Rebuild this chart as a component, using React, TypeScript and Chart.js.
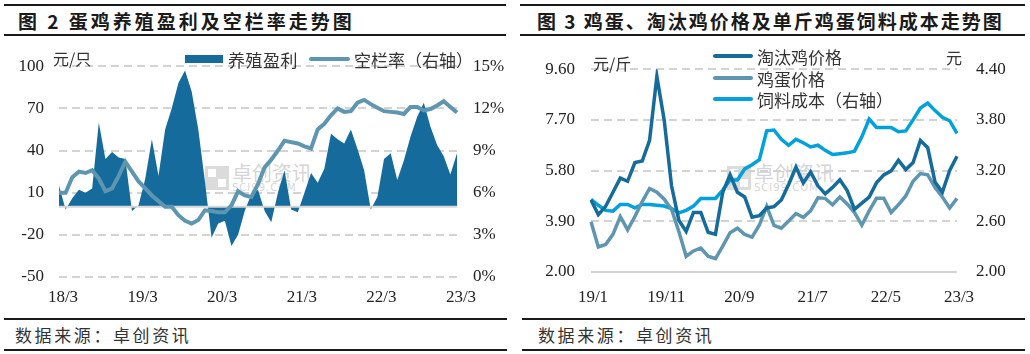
import React, { useEffect, useRef } from "react";
import { Chart, registerables } from "chart.js";

Chart.register(...registerables);

// ---------- Figure 2 data ----------
const profitLabels: string[] = [
  "18/3", "18/4", "18/5", "18/6", "18/7", "18/8", "18/9", "18/10", "18/11", "18/12",
  "19/1", "19/2", "19/3", "19/4", "19/5", "19/6", "19/7", "19/8", "19/9", "19/10", "19/11", "19/12",
  "20/1", "20/2", "20/3", "20/4", "20/5", "20/6", "20/7", "20/8", "20/9", "20/10", "20/11", "20/12",
  "21/1", "21/2", "21/3", "21/4", "21/5", "21/6", "21/7", "21/8", "21/9", "21/10", "21/11", "21/12",
  "22/1", "22/2", "22/3", "22/4", "22/5", "22/6", "22/7", "22/8", "22/9", "22/10", "22/11", "22/12",
  "23/1", "23/2", "23/3",
];
const profitValues: number[] = [
  15, -2, 6, 12, 10, 13, 60, 34, 39, 35, 34, -3,
  1, 20, 48, 22, 55, 70, 88, 97, 82, 55, 18, -22,
  -12, -10, -28, -20, -3, 9, 12, -3, -11, 10, 26, -2,
  -4, 10, 24, 17, 27, 52, 48, 45, 55, 41, 26, -2,
  7, 34, 38, 19, 33, 50, 64, 74, 57, 44, 36, 23,
  38,
];
const vacancyRates: number[] = [
  6.0, 6.0, 7.1, 7.5, 7.4, 7.6, 7.0, 6.1, 6.3, 7.2, 8.2, 7.5,
  6.8, 6.3, 5.8, 5.4, 5.0, 5.0, 4.4, 4.0, 3.8, 4.05, 4.75, 4.7,
  4.6, 4.6, 5.1, 6.1, 5.8, 5.7, 6.6, 7.8, 8.35, 9.0, 9.7, 9.6,
  9.5, 9.3, 9.15, 10.5, 10.9, 11.5, 12.0, 11.75, 11.8, 12.4, 12.6, 12.3,
  12.05, 11.8, 11.75, 11.7, 11.6, 12.1, 12.1, 11.85, 11.95, 12.2, 12.5, 12.1,
  11.7,
];
const profitTicks: number[] = [-50, -20, 10, 40, 70, 100];
const vacancyTicks: number[] = [0, 3, 6, 9, 12, 15];

// ---------- Figure 3 data ----------
const priceLabels: string[] = [
  "19/1", "19/2", "19/3", "19/4", "19/5", "19/6", "19/7", "19/8", "19/9", "19/10", "19/11", "19/12",
  "20/1", "20/2", "20/3", "20/4", "20/5", "20/6", "20/7", "20/8", "20/9", "20/10", "20/11", "20/12",
  "21/1", "21/2", "21/3", "21/4", "21/5", "21/6", "21/7", "21/8", "21/9", "21/10", "21/11", "21/12",
  "22/1", "22/2", "22/3", "22/4", "22/5", "22/6", "22/7", "22/8", "22/9", "22/10", "22/11", "22/12",
  "23/1", "23/2", "23/3",
];
const cullPrices: number[] = [
  4.70, 4.15, 4.46, 4.99, 5.52, 5.40, 6.10, 6.16, 6.93, 9.33, 7.69, 5.23,
  3.94, 3.52, 4.23, 4.23, 3.49, 3.41, 4.99, 5.64, 4.99, 4.81, 4.05, 4.11,
  4.40, 4.45, 4.70, 5.28, 5.93, 5.34, 5.75, 5.23, 4.93, 5.17, 5.46, 5.05,
  4.35, 4.58, 4.81, 5.34, 5.64, 5.79, 6.19, 5.84, 6.10, 6.93, 6.66, 5.37,
  4.99, 5.81, 6.34,
];
const eggPrices: number[] = [
  3.88, 2.94, 3.03, 3.41, 4.08, 3.58, 4.08, 4.64, 5.13, 4.99, 4.73, 4.35,
  3.52, 2.59, 2.79, 2.90, 2.59, 2.50, 2.97, 3.47, 3.64, 3.41, 3.31, 3.76,
  4.46, 3.75, 3.64, 3.91, 4.19, 4.05, 4.29, 4.78, 4.76, 4.52, 4.81, 4.55,
  4.23, 3.76, 4.29, 4.76, 4.76, 4.23, 4.52, 4.85, 5.40, 5.69, 5.64, 5.17,
  4.81, 4.40, 4.76,
];
const feedCosts: number[] = [
  2.86, 2.79, 2.73, 2.72, 2.80, 2.80, 2.76, 2.80, 2.80, 2.79, 2.78, 2.75,
  2.70, 2.73, 2.78, 2.87, 2.87, 2.87, 2.97, 3.09, 3.09, 3.22, 3.27, 3.33,
  3.67, 3.68, 3.57, 3.50, 3.57, 3.53, 3.48, 3.50, 3.44, 3.39, 3.40, 3.41,
  3.43, 3.60, 3.81, 3.71, 3.71, 3.71, 3.66, 3.67, 3.80, 3.94, 4.00, 3.91,
  3.83, 3.79, 3.64,
];
const priceTicks: number[] = [2.0, 3.9, 5.8, 7.7, 9.6];
const feedTicks: number[] = [2.0, 2.6, 3.2, 3.8, 4.4];

// ---------- styles ----------
const NUM_FONT = "'Liberation Serif', 'Noto Sans CJK SC', serif";
const CJK_FONT = "'Noto Sans CJK SC', sans-serif";
const TICK_COLOR = "#222222";
const GRID_COLOR = "#d3d3d3";
const DARK_BLUE = "#156b9b";
const MID_BLUE = "#5e96b1";
const LIGHT_BLUE = "#00a1dc";

const tickFont = { family: NUM_FONT, size: 17 };

const zeroLinePlugin = {
  id: "zeroLine",
  afterDatasetDraw(chart: any, args: any) {
    if (args.index !== 1) return;
    const y = chart.scales.y.getPixelForValue(0);
    const { left, right } = chart.chartArea;
    const ctx = chart.ctx;
    ctx.save();
    ctx.strokeStyle = "#d6d6d6";
    ctx.lineWidth = 2;
    ctx.beginPath();
    ctx.moveTo(left, y);
    ctx.lineTo(right, y);
    ctx.stroke();
    ctx.restore();
  },
};

function ProfitChart() {
  const ref = useRef<HTMLCanvasElement | null>(null);
  useEffect(() => {
    if (!ref.current) return;
    const chart = new Chart(ref.current, {
      type: "line",
      data: {
        labels: profitLabels,
        datasets: [
          {
            label: "空栏率（右轴）",
            data: vacancyRates,
            yAxisID: "y1",
            borderColor: MID_BLUE,
            borderWidth: 4,
            pointRadius: 0,
            fill: false,
            order: 0,
          },
          {
            label: "养殖盈利",
            data: profitValues,
            yAxisID: "y",
            borderColor: "rgba(0,0,0,0)",
            borderWidth: 0,
            backgroundColor: DARK_BLUE,
            pointRadius: 0,
            fill: "origin",
            order: 1,
          },
        ],
      },
      options: {
        animation: false,
        responsive: false,
        layout: { padding: { top: 21, left: 0, right: 0, bottom: 0 } },
        plugins: { legend: { display: false }, tooltip: { enabled: false } },
        scales: {
          x: {
            grid: { display: false, drawTicks: false },
            border: { display: false },
            ticks: {
              autoSkip: false,
              maxRotation: 0,
              padding: 10,
              labelOffset: 4,
              font: tickFont,
              color: TICK_COLOR,
              callback: (_v: any, i: number) => (i % 12 === 0 ? profitLabels[i] : ""),
            },
            afterFit: (s: any) => {
              s.height = 33;
            },
          },
          y: {
            position: "left",
            min: -50,
            max: 100,
            afterBuildTicks: (s: any) => {
              s.ticks = profitTicks.map((v) => ({ value: v }));
            },
            grid: { color: GRID_COLOR, lineWidth: 2, drawTicks: false },
            border: { display: false, dash: [8, 5] },
            ticks: { padding: 15, font: tickFont, color: TICK_COLOR },
            afterFit: (s: any) => {
              s.width = 59;
            },
          },
          y1: {
            position: "right",
            min: 0,
            max: 15,
            afterBuildTicks: (s: any) => {
              s.ticks = vacancyTicks.map((v) => ({ value: v }));
            },
            grid: { display: false, drawTicks: false },
            border: { display: false },
            ticks: {
              padding: 16,
              font: tickFont,
              color: TICK_COLOR,
              callback: (v: any) => `${v}%`,
            },
            afterFit: (s: any) => {
              s.width = 58;
            },
          },
        },
      } as any,
      plugins: [zeroLinePlugin],
    });
    return () => chart.destroy();
  }, []);
  return (
    <canvas
      ref={ref}
      width={515}
      height={270}
      style={{ position: "absolute", left: 0, top: 40, width: 515, height: 270 }}
    />
  );
}

function PriceChart() {
  const ref = useRef<HTMLCanvasElement | null>(null);
  useEffect(() => {
    if (!ref.current) return;
    const chart = new Chart(ref.current, {
      type: "line",
      data: {
        labels: priceLabels,
        datasets: [
          {
            label: "淘汰鸡价格",
            data: cullPrices,
            yAxisID: "y",
            borderColor: DARK_BLUE,
            borderWidth: 3.5,
            pointRadius: 0,
            fill: false,
          },
          {
            label: "鸡蛋价格",
            data: eggPrices,
            yAxisID: "y",
            borderColor: MID_BLUE,
            borderWidth: 3.5,
            pointRadius: 0,
            fill: false,
          },
          {
            label: "饲料成本（右轴）",
            data: feedCosts,
            yAxisID: "y1",
            borderColor: LIGHT_BLUE,
            borderWidth: 3.5,
            pointRadius: 0,
            fill: false,
          },
        ],
      },
      options: {
        animation: false,
        responsive: false,
        layout: { padding: { top: 16, left: 0, right: 0, bottom: 0 } },
        plugins: { legend: { display: false }, tooltip: { enabled: false } },
        scales: {
          x: {
            grid: { display: false, drawTicks: false },
            border: { display: false },
            ticks: {
              autoSkip: false,
              maxRotation: 0,
              padding: 15,
              labelOffset: 2,
              font: tickFont,
              color: TICK_COLOR,
              callback: (_v: any, i: number) => (i % 10 === 0 ? priceLabels[i] : ""),
            },
            afterFit: (s: any) => {
              s.height = 38;
            },
          },
          y: {
            position: "left",
            min: 2,
            max: 9.6,
            afterBuildTicks: (s: any) => {
              s.ticks = priceTicks.map((v) => ({ value: v }));
            },
            grid: { color: GRID_COLOR, lineWidth: 2, drawTicks: false },
            border: {
              display: false,
              dash: (ctx: any) => (ctx.tick && Math.abs(ctx.tick.value - 2) < 1e-6 ? [] : [8, 5]),
            },
            ticks: {
              padding: 16,
              font: tickFont,
              color: TICK_COLOR,
              callback: (v: any) => Number(v).toFixed(2),
            },
            afterFit: (s: any) => {
              s.width = 76;
            },
          },
          y1: {
            position: "right",
            min: 2,
            max: 4.4,
            afterBuildTicks: (s: any) => {
              s.ticks = feedTicks.map((v) => ({ value: v }));
            },
            grid: { display: false, drawTicks: false },
            border: { display: false },
            ticks: {
              padding: 19,
              font: tickFont,
              color: TICK_COLOR,
              callback: (v: any) => Number(v).toFixed(2),
            },
            afterFit: (s: any) => {
              s.width = 73;
            },
          },
        },
      } as any,
    });
    return () => chart.destroy();
  }, []);
  return (
    <canvas
      ref={ref}
      width={515}
      height={270}
      style={{ position: "absolute", left: 515, top: 40, width: 515, height: 270 }}
    />
  );
}

const abs = (x: number, y: number, extra: React.CSSProperties = {}): React.CSSProperties => ({
  position: "absolute",
  left: x,
  top: y,
  ...extra,
});

function Rule({ x, y, w }: { x: number; y: number; w: number }) {
  return <div style={abs(x, y, { width: w, height: 2, background: "#1a1a1a" })} />;
}

function Label({
  x,
  y,
  text,
  size = 17,
  weight = 400,
  spacing = 0,
  color = "#333",
}: {
  x: number;
  y: number;
  text: string;
  size?: number;
  weight?: number;
  spacing?: number;
  color?: string;
}) {
  return (
    <div
      style={abs(x, y, {
        transform: "translateY(-50%)",
        fontFamily: CJK_FONT,
        fontSize: size,
        fontWeight: weight,
        letterSpacing: spacing,
        color,
        lineHeight: 1,
        whiteSpace: "nowrap",
      })}
    >
      {text}
    </div>
  );
}

function Watermark({ x, y }: { x: number; y: number }) {
  return (
    <div style={abs(x, y, { opacity: 0.35 })}>
      <div style={abs(0, 0, { width: 24, height: 24, background: "#9a9a9a" })}>
        <div style={abs(3, 3, { width: 8, height: 8, background: "#fff" })} />
        <div style={abs(13, 13, { width: 8, height: 8, background: "#fff" })} />
      </div>
      <div
        style={abs(27, -3, {
          fontFamily: CJK_FONT,
          fontSize: 20,
          color: "#8a8a8a",
          whiteSpace: "nowrap",
          lineHeight: 1,
        })}
      >
        卓创资讯
      </div>
      <div
        style={abs(27, 17, {
          fontFamily: "'DejaVu Sans', sans-serif",
          fontSize: 10,
          color: "#8a8a8a",
          whiteSpace: "nowrap",
          lineHeight: 1,
          letterSpacing: 1,
        })}
      >
        SCI99.COM
      </div>
    </div>
  );
}

export default function App() {
  return (
    <div
      style={{
        position: "fixed",
        left: 0,
        top: 0,
        width: 1030,
        height: 354,
        background: "#ffffff",
        overflow: "hidden",
      }}
    >
      {/* header rules and titles */}
      <Rule x={4} y={4} w={502} />
      <Rule x={4} y={34} w={502} />
      <Rule x={520} y={4} w={505} />
      <Rule x={520} y={34} w={505} />
      <Label x={18} y={20} text="图 2 蛋鸡养殖盈利及空栏率走势图" size={19} weight={700} spacing={3} color="#1a1a1a" />
      <Label x={537} y={20} text="图 3 鸡蛋、淘汰鸡价格及单斤鸡蛋饲料成本走势图" size={19} weight={700} spacing={2} color="#1a1a1a" />

      {/* watermarks */}
      <Watermark x={205} y={166} />
      <Watermark x={727} y={166} />

      <ProfitChart />
      <PriceChart />

      {/* units */}
      <Label x={53} y={58} text="元/只" size={16} />
      <Label x={593} y={63} text="元/斤" size={16} />
      <Label x={946} y={57} text="元" size={16} />

      {/* legend figure 2 */}
      <div style={abs(185, 55, { width: 38, height: 8, background: DARK_BLUE })} />
      <Label x={228} y={59} text="养殖盈利" size={17} spacing={0.5} />
      <div style={abs(309, 57, { width: 41, height: 4, background: MID_BLUE, borderRadius: 2 })} />
      <Label x={354} y={59} text="空栏率（右轴）" size={17} />

      {/* legend figure 3 */}
      <div style={abs(713, 54, { width: 40, height: 4, background: DARK_BLUE, borderRadius: 2 })} />
      <Label x={757} y={56} text="淘汰鸡价格" size={17} />
      <div style={abs(713, 75.5, { width: 40, height: 4, background: MID_BLUE, borderRadius: 2 })} />
      <Label x={757} y={77.5} text="鸡蛋价格" size={17} />
      <div style={abs(713, 97, { width: 40, height: 4, background: LIGHT_BLUE, borderRadius: 2 })} />
      <Label x={757} y={99} text="饲料成本（右轴）" size={17} />

      {/* footer */}
      <Rule x={4} y={318} w={503} />
      <Rule x={4} y={349} w={503} />
      <Rule x={522} y={318} w={503} />
      <Rule x={522} y={349} w={503} />
      <Label x={15} y={334} text="数据来源：卓创资讯" size={17} spacing={2.6} />
      <Label x={538} y={334} text="数据来源：卓创资讯" size={17} spacing={2.6} />
    </div>
  );
}
